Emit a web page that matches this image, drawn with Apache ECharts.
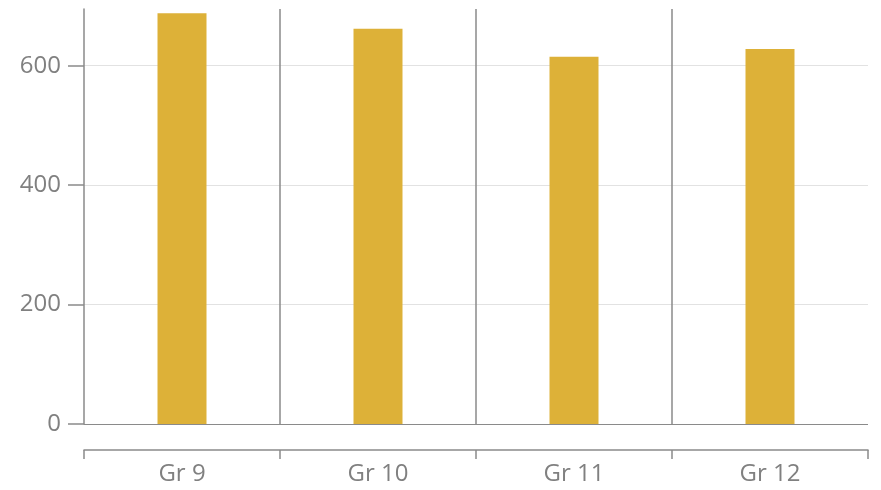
<!DOCTYPE html>
<html><head><meta charset="utf-8">
<script src="https://cdn.jsdelivr.net/npm/echarts@6/dist/echarts.min.js"></script>
<style>html,body{margin:0;padding:0;background:#fff}#c{width:881px;height:490px}</style>
</head><body><div id="c"></div>
<script>
const categories = ['Gr 9', 'Gr 10', 'Gr 11', 'Gr 12'];
const values = [688, 662, 615, 628];
const yTicks = [0, 200, 400, 600];

const chart = echarts.init(document.getElementById('c'));
const font = '"Open Sans", "DejaVu Sans", sans-serif';
chart.setOption({
  animation: false,
  grid: { left: 84, right: 13, top: 9, bottom: 66 },
  xAxis: {
    type: 'category',
    data: categories,
    offset: 26,
    axisLine: { show: true, onZero: false, lineStyle: { color: '#8a8a8a', width: 1.5 } },
    axisTick: { show: true, length: 9, lineStyle: { color: '#8a8a8a', width: 1.5 } },
    axisLabel: { color: '#808080', fontSize: 24, fontFamily: font, margin: 12 },
    splitLine: { show: true, lineStyle: { color: ['transparent', '#8a8a8a', '#8a8a8a', '#8a8a8a', 'transparent'], width: 1.5 } }
  },
  yAxis: {
    type: 'value',
    min: 0,
    max: 695,
    interval: 200,
    axisLine: { show: true, lineStyle: { color: '#8a8a8a', width: 1.5 } },
    axisTick: { show: true, length: 16, lineStyle: { color: '#8a8a8a', width: 1.5 } },
    axisLabel: {
      color: '#808080', fontSize: 24, fontFamily: font, margin: 23, showMaxLabel: false,
      formatter: v => (yTicks.indexOf(v) >= 0 ? String(v) : '')
    },
    splitLine: { show: true, lineStyle: { color: ['#8a8a8a', '#e2e2e2', '#e2e2e2', '#e2e2e2', 'transparent'], width: 1.2 } }
  },
  series: [{
    type: 'bar',
    data: values,
    barWidth: '25%',
    itemStyle: { color: '#DDB138' }
  }]
});
</script></body></html>
